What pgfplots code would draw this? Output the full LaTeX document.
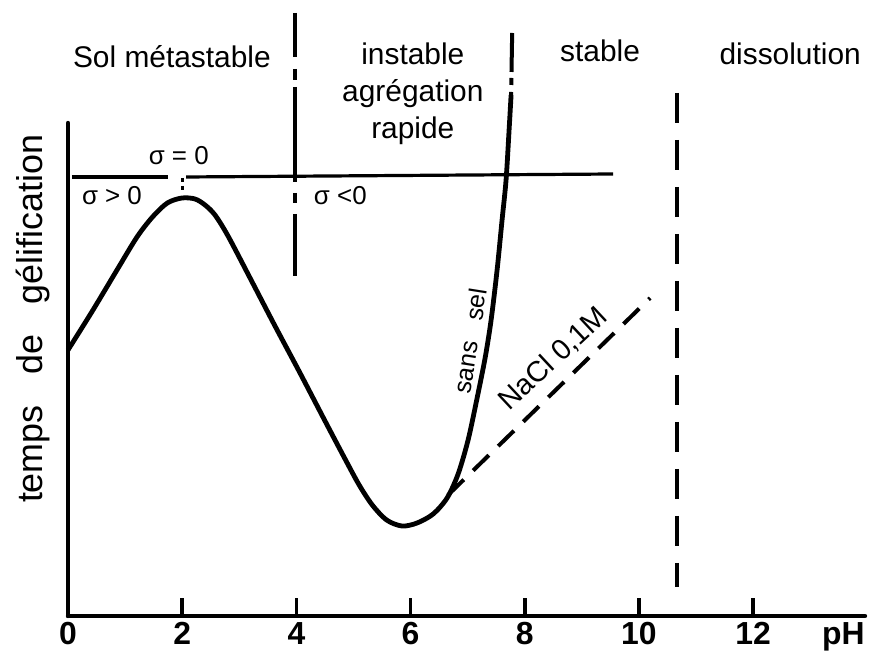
\documentclass[border=0pt]{standalone}
\usepackage{fontspec}
\setmainfont{Liberation Sans}
\usepackage{pgfplots}
\pgfplotsset{compat=1.18}
\begin{document}
\begin{tikzpicture}
\useasboundingbox (-34bp,-20bp) rectangle (402bp,308bp);
\begin{axis}[
  at={(0,0)}, anchor=origin,
  scale only axis, width=398.5bp, height=246.5bp,
  xmin=0, xmax=13.96, ymin=0, ymax=493,
  axis lines=left,
  axis line style={-, line width=2.2bp, line cap=round},
  xtick={0,2,4,6,8,10,12},
  xticklabels={0,2,4,6,8,10,12},
  xticklabel style={font=\fontsize{16}{18}\selectfont\bfseries, inner sep=3bp},
  ytick=\empty,
  tick align=inside,
  major tick length=9bp,
  xtick style={line width=1.8bp, black},
  clip=false,
]
% main curve (sans sel)
\addplot[smooth, tension=0.5, line width=2.4bp, black, line join=round] coordinates {
(0,266) (0.438,306) (0.858,346) (1.209,379) (1.480,399) (1.740,413)
(1.997,418) (2.225,417) (2.40,411) (2.575,401) (2.803,380) (3.189,338)
(3.626,290) (4.064,243) (4.502,195) (4.853,157) (5.100,131) (5.330,111)
(5.580,96) (5.850,90) (6.114,93) (6.396,102) (6.640,118) (6.833,142)
(7.008,176) (7.166,218) (7.306,258) (7.411,296) (7.516,346) (7.603,396)
(7.673,436) (7.726,486) (7.761,521)
};
% NaCl 0,1M dashed
\addplot[line width=2bp, black, dash pattern=on 11bp off 6.5bp] coordinates {(6.657,121) (10.196,318)};
% sigma = 0 line
\addplot[line width=1.6bp, black] coordinates {(0.07,439) (1.75,439)};
\addplot[line width=1.6bp, black] coordinates {(2.07,439) (9.55,442)};
\addplot[line width=1.5bp, black, dash pattern=on 2bp off 2bp] coordinates {(1.997,438) (1.997,426)};
% dash-dot at pH 4
\addplot[line width=2bp, black, dash pattern=on 22bp off 6bp on 5.5bp off 3.5bp on 47.5bp off 5.5bp on 5bp off 5.5bp on 31bp off 10bp] coordinates {(3.97,603) (3.97,339)};
% dash-dot at top of sans sel curve
\addplot[line width=2bp, black, dash pattern=on 19.5bp off 3bp on 3.5bp off 3.5bp on 20bp off 5bp] coordinates {(7.78,583) (7.761,521)};
% dashed vertical dissolution
\addplot[line width=2bp, black, dash pattern=on 15bp off 8.5bp] coordinates {(10.67,523) (10.67,29)};
% texts
\node[anchor=base, font=\fontsize{15}{18}\selectfont] at (axis cs:1.82,548) {Sol métastable};
\node[anchor=base, font=\fontsize{15}{18}\selectfont] at (axis cs:6.04,551) {instable};
\node[anchor=base, font=\fontsize{15}{18}\selectfont] at (axis cs:6.04,514) {agrégation};
\node[anchor=base, font=\fontsize{15}{18}\selectfont] at (axis cs:6.04,477) {rapide};
\node[anchor=base, font=\fontsize{15}{18}\selectfont] at (axis cs:9.32,554) {stable};
\node[anchor=base, font=\fontsize{15}{18}\selectfont] at (axis cs:12.65,551) {dissolution};
\node[anchor=base, font=\fontsize{13}{15}\selectfont] at (axis cs:1.94,451) {σ = 0};
\node[anchor=base, font=\fontsize{13}{15}\selectfont] at (axis cs:0.77,411) {σ > 0};
\node[anchor=base, font=\fontsize{13}{15}\selectfont] at (axis cs:4.77,411) {σ <0};
\node[rotate=81, inner sep=0pt, font=\fontsize{12.5}{15}\selectfont] at (axis cs:7.04,275) {sans\hspace{0.85em}sel};
\node[rotate=43, inner sep=0pt, font=\fontsize{14.5}{16}\selectfont] at (axis cs:8.50,257) {NaCl 0,1M};
\node[anchor=north, inner sep=3bp, font=\fontsize{16}{18}\selectfont\bfseries] at (axis cs:13.58,0) {pH};
\node[rotate=90, anchor=base, font=\fontsize{18}{20}\selectfont] at (axis cs:-0.455,297) {temps\hspace{0.85em}de\hspace{0.85em}gélification};
\end{axis}
\end{tikzpicture}
\end{document}
